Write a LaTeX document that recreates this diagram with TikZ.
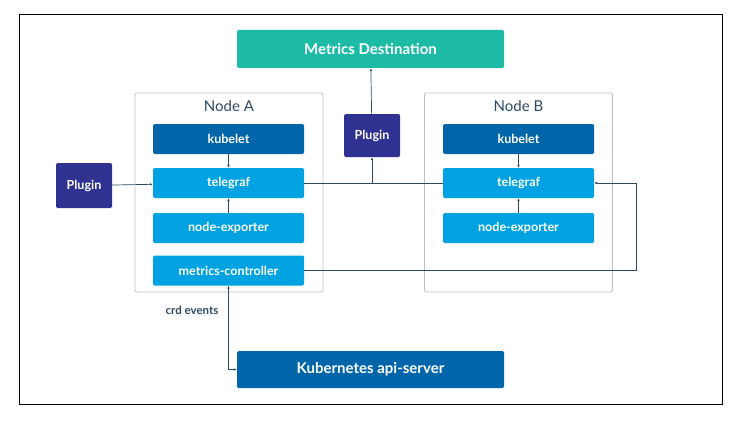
\documentclass[tikz,border=0pt]{standalone}
\usepackage{fontspec}
\setmainfont{Lato}
\usetikzlibrary{arrows.meta}

\definecolor{destcol}{HTML}{1DBBA6}
\definecolor{darkcol}{HTML}{0066A9}
\definecolor{lightcol}{HTML}{00A2E1}
\definecolor{plugcol}{HTML}{2F3291}
\definecolor{linecol}{HTML}{2E4A62}
\definecolor{framecol}{HTML}{B8BEC3}

\tikzset{
	box/.style={rounded corners=1.5pt, text=white, font=\bfseries\fontsize{12.5}{14}\selectfont, inner sep=0pt},
	big/.style={box, font=\bfseries\fontsize{15}{18}\selectfont, minimum width=267pt},
	part/.style={box, minimum width=151pt, minimum height=30pt},
	host/.style={draw=framecol, rounded corners=2pt, line width=0.8pt, minimum width=188pt, minimum height=199pt, inner sep=0pt},
	link/.style={draw=linecol, line width=0.7pt},
	>={Latex[length=3pt,width=2.6pt]}
}

\begin{document}
\begin{tikzpicture}[x=1pt,y=-1pt]
		\useasboundingbox (0,0) rectangle (743,425);
		\draw[line width=1pt] (19,15) rectangle (722,404);
		
		% hosts
		\node[host] (hostA) at (229,192.5) {};
		\node[host] (hostB) at (518.5,192.5) {};
		\node[text=linecol, font=\fontsize{15}{18}\selectfont] (nameA) at (229,106) {Node A};
		\node[text=linecol, font=\fontsize{15}{18}\selectfont] (nameB) at (518.5,106) {Node B};
		
		% node A parts
		\node[part, fill=darkcol]  (kubA) at (228.5,139)   {kubelet};
		\node[part, fill=lightcol] (telA) at (228.5,183)   {telegraf};
		\node[part, fill=lightcol] (expA) at (228.5,228)   {node-exporter};
		\node[part, fill=lightcol] (ctrl) at (228.5,270.5) {metrics-controller};
		
		% node B parts
		\node[part, fill=darkcol]  (kubB) at (518.5,139) {kubelet};
		\node[part, fill=lightcol] (telB) at (518.5,183) {telegraf};
		\node[part, fill=lightcol] (expB) at (518.5,228) {node-exporter};
		
		% plugins, destination, api-server
		\node[box, fill=plugcol, minimum width=56pt, minimum height=45pt] (plugL) at (84,185.5) {Plugin};
		\node[box, fill=plugcol, minimum width=56pt, minimum height=43pt] (plugM) at (372,135.5) {Plugin};
		\node[big, fill=destcol, minimum height=38pt] (dest) at (370.5,49) {Metrics Destination};
		\node[big, fill=darkcol, minimum height=37pt] (api) at (370.5,369.5) {Kubernetes api-server};
		\node[text=linecol, font=\bfseries\fontsize{11.5}{14}\selectfont] (crd) at (192,310) {crd events};
		\coordinate (turn) at (636,270.5);
		
		% connectors
		\draw[link,->] (plugL) -- (telA);
		\draw[link,->] (kubA) -- (telA);
		\draw[link,->] (expA) -- (telA);
		\draw[link,->] (kubB) -- (telB);
		\draw[link,->] (expB) -- (telB);
		\draw[link] (telA) -- (telB);
		\draw[link,->] (telA.east -| plugM.south) -- (plugM.south);
		\draw[link,->] (plugM) -- (dest);
		\draw[link,->] (ctrl.east) -- (turn) |- (telB.east);
		\draw[link,<->] (ctrl.south) |- (api.west);
		\end{tikzpicture}
\end{document}
